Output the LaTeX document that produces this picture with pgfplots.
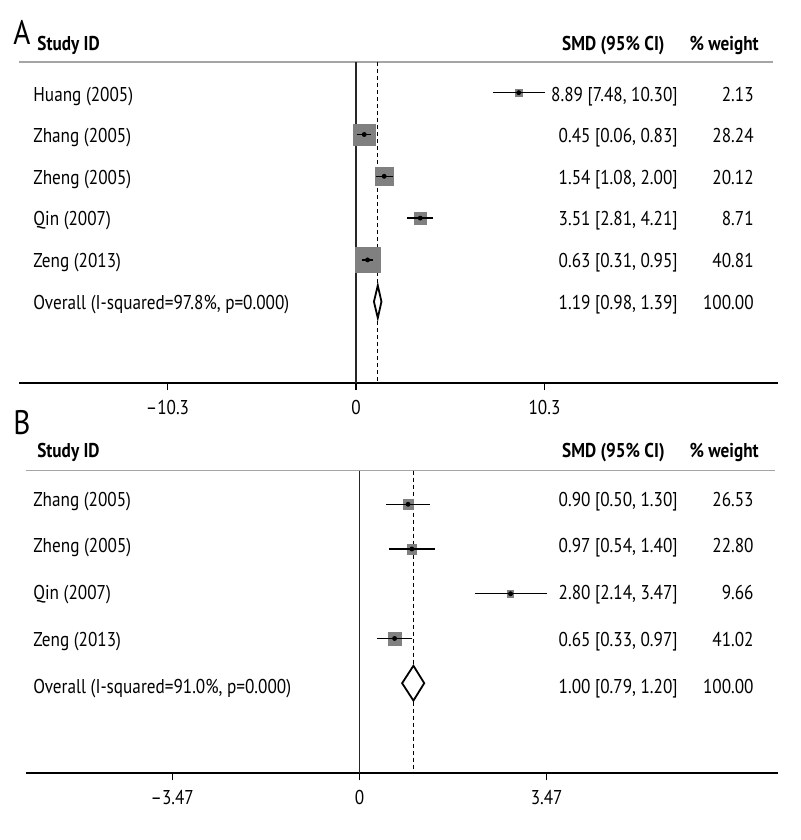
\documentclass[border=0pt]{standalone}
\usepackage{fontspec}
\setmainfont{PT Sans}[FakeStretch=0.86]
\usepackage{pgfplots}
\usepackage{pgfplotstable}
\pgfplotsset{compat=1.18}
\definecolor{sqgray}{RGB}{128,128,128}
\definecolor{rulegray}{RGB}{165,165,165}

\pgfplotstableread{
row est lo hi w
1 8.89 7.48 10.30 2.13
2 0.45 0.06 0.83 28.24
3 1.54 1.08 2.00 20.12
4 3.51 2.81 4.21 8.71
5 0.63 0.31 0.95 40.81
}\dataA
\pgfplotstableread{
row est lo hi w
1 0.90 0.50 1.30 26.53
2 0.97 0.54 1.40 22.80
3 2.80 2.14 3.47 9.66
4 0.65 0.33 0.97 41.02
}\dataB

\tikzset{
  lw/.style={anchor=base west, inner sep=0pt},
  le/.style={anchor=base east, inner sep=0pt},
}
\pgfplotsset{
  forest/.style={
    scale only axis, clip=false, clip marker paths=true, anchor=south west,
    axis x line*=bottom, axis y line=none,
    x axis line style={-, line width=0.8pt, black},
    tick align=outside, major tick length=3.5pt,
    xtick style={black, line width=0.7pt},
    ytick=\empty,
    xticklabel style={yshift=-1.5pt},
  },
  sq/.style={scatter, only marks, mark=square*,
    mark options={line width=0.2pt},
    scatter/use mapped color={draw=sqgray, fill=sqgray}},
  ci/.style={only marks, mark=*, mark size=1pt, black,
    error bars/.cd, x dir=both, x explicit, error mark=none,
    error bar style={line width=0.75pt, black}},
}

\begin{document}
\fontsize{10}{12}\selectfont
\begin{tikzpicture}
\useasboundingbox (0,0) rectangle (400pt,420pt);

% ---------------- Panel A ----------------
\node[lw, font=\fontsize{17}{19}\selectfont] at (6.5pt,397.5pt) {A};
\begin{axis}[forest, at={(9.65pt,228.35pt)},
  width=379.35pt, height=160.65pt,
  xmin=-18.40, xmax=23.06, ymin=-7.952, ymax=-0.2656,
  xtick={-10.3,0,10.3}, xticklabels={–10.3,0,10.3}]
\addplot[rulegray, line width=0.75pt] coordinates {(-18.40,-0.2656) (22.787,-0.2656)};
\addplot[black!85, line width=0.7pt] coordinates {(0,-0.2656) (0,-7.952)};
\addplot[black, line width=0.5pt, dash pattern=on 2pt off 1.5pt] coordinates {(1.19,-0.2656) (1.19,-7.952)};
\addplot[sq, visualization depends on={0.975*sqrt(\thisrow{w})+0.125 \as \ms},
  scatter/@pre marker code/.append style={/tikz/mark size=\ms}]
  table[x=est, y expr=-\thisrow{row}] {\dataA};
\addplot[ci] table[x=est, y expr=-\thisrow{row},
  x error plus expr=\thisrow{hi}-\thisrow{est},
  x error minus expr=\thisrow{est}-\thisrow{lo}] {\dataA};
\addplot[draw=black, fill=white, line width=0.9pt] coordinates {(0.98,-6) (1.19,-5.61) (1.39,-6) (1.19,-6.39)} --cycle;

\node[lw, font=\bfseries] at (axis cs:-17.432,0.0096) {Study ID};
\node[le, font=\bfseries] at (axis cs:16.885,0.0096) {SMD (95\% CI)};
\node[le, font=\bfseries] at (axis cs:22.022,0.0096) {\% weight};

\node[lw] at (axis cs:-17.65,-1.215) {Huang (2005)};
\node[lw] at (axis cs:-17.65,-2.196) {Zhang (2005)};
\node[lw] at (axis cs:-17.65,-3.191) {Zheng (2005)};
\node[lw] at (axis cs:-17.65,-4.189) {Qin (2007)};
\node[lw] at (axis cs:-17.65,-5.187) {Zeng (2013)};
\node[lw] at (axis cs:-17.65,-6.182) {Overall (I-squared=97.8\%, p=0.000)};

\node[le] at (axis cs:17.596,-1.215) {8.89 [7.48, 10.30]};
\node[le] at (axis cs:17.596,-2.196) {0.45 [0.06, 0.83]};
\node[le] at (axis cs:17.596,-3.191) {1.54 [1.08, 2.00]};
\node[le] at (axis cs:17.596,-4.189) {3.51 [2.81, 4.21]};
\node[le] at (axis cs:17.596,-5.187) {0.63 [0.31, 0.95]};
\node[le] at (axis cs:17.596,-6.182) {1.19 [0.98, 1.39]};

\node[le] at (axis cs:21.75,-1.215) {2.13};
\node[le] at (axis cs:21.75,-2.196) {28.24};
\node[le] at (axis cs:21.75,-3.191) {20.12};
\node[le] at (axis cs:21.75,-4.189) {8.71};
\node[le] at (axis cs:21.75,-5.187) {40.81};
\node[le] at (axis cs:21.75,-6.182) {100.00};
\end{axis}

% ---------------- Panel B ----------------
\node[lw, font=\fontsize{17}{19}\selectfont] at (6.5pt,202.5pt) {B};
\begin{axis}[forest, at={(12.9pt,33.35pt)},
  width=376.1pt, height=151.3pt,
  xmin=-6.185, xmax=7.757, ymin=-7.015, ymax=-0.2487,
  xtick={-3.47,0,3.47}, xticklabels={–3.47,0,3.47}]
\addplot[rulegray, line width=0.75pt] coordinates {(-6.185,-0.2487) (7.702,-0.2487)};
\addplot[black!85, line width=0.7pt] coordinates {(0,-0.2487) (0,-7.015)};
\addplot[black, line width=0.5pt, dash pattern=on 2pt off 1.5pt] coordinates {(1.00,-0.2487) (1.00,-7.015)};
\addplot[sq, visualization depends on={0.5*sqrt(\thisrow{w}) \as \ms},
  scatter/@pre marker code/.append style={/tikz/mark size=\ms}]
  table[x=est, y expr=-\thisrow{row}] {\dataB};
\addplot[ci] table[x=est, y expr=-\thisrow{row},
  x error plus expr=\thisrow{hi}-\thisrow{est},
  x error minus expr=\thisrow{est}-\thisrow{lo}] {\dataB};
\addplot[draw=black, fill=white, line width=0.9pt] coordinates {(0.79,-5) (1.00,-4.61) (1.20,-5) (1.00,-5.39)} --cycle;

\node[lw, font=\bfseries] at (axis cs:-5.978,0.051) {Study ID};
\node[le, font=\bfseries] at (axis cs:5.663,0.051) {SMD (95\% CI)};
\node[le, font=\bfseries] at (axis cs:7.405,0.051) {\% weight};

\node[lw] at (axis cs:-6.052,-1.060) {Zhang (2005)};
\node[lw] at (axis cs:-6.052,-2.089) {Zheng (2005)};
\node[lw] at (axis cs:-6.052,-3.140) {Qin (2007)};
\node[lw] at (axis cs:-6.052,-4.169) {Zeng (2013)};
\node[lw] at (axis cs:-6.052,-5.220) {Overall (I-squared=91.0\%, p=0.000)};

\node[le] at (axis cs:5.904,-1.060) {0.90 [0.50, 1.30]};
\node[le] at (axis cs:5.904,-2.089) {0.97 [0.54, 1.40]};
\node[le] at (axis cs:5.904,-3.140) {2.80 [2.14, 3.47]};
\node[le] at (axis cs:5.904,-4.169) {0.65 [0.33, 0.97]};
\node[le] at (axis cs:5.904,-5.220) {1.00 [0.79, 1.20]};

\node[le] at (axis cs:7.312,-1.060) {26.53};
\node[le] at (axis cs:7.312,-2.089) {22.80};
\node[le] at (axis cs:7.312,-3.140) {9.66};
\node[le] at (axis cs:7.312,-4.169) {41.02};
\node[le] at (axis cs:7.312,-5.220) {100.00};
\end{axis}
\end{tikzpicture}
\end{document}
